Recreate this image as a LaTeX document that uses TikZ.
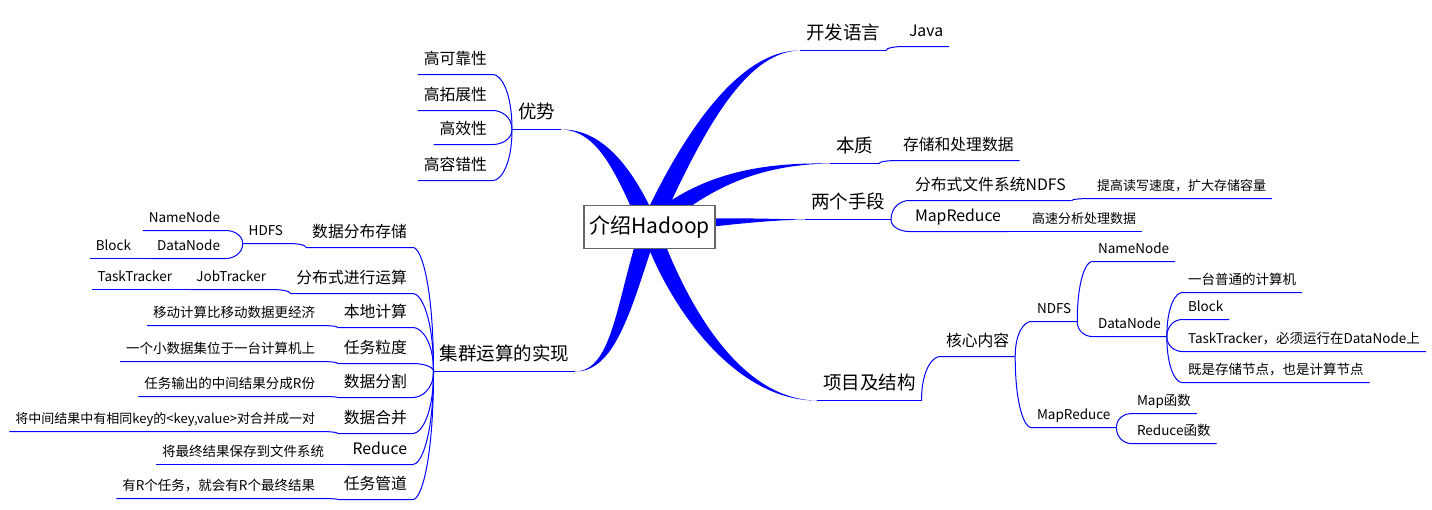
\documentclass[tikz,border=0pt]{standalone}
\usepackage{fontspec}
\setmainfont{Noto Sans CJK SC}
\usetikzlibrary{calc}

% thick tapered main branch from the hub to a topic
\newcommand{\limb}[5]{%
  \fill[trunk] ($(hub)+(#5)$) .. controls ($(hub)+(#3)+(#5)$) and ($(#1.#2)+(#4)+0.2*(#5)$) .. (#1.#2)
    .. controls ($(#1.#2)+(#4)-0.2*(#5)$) and ($(hub)+(#3)-(#5)$) .. ($(hub)-(#5)$) -- cycle;
  \draw[wire] (#1.south west) -- (#1.south east);}
% thin branch to a subtopic, right and left side
\newcommand{\twigR}[2]{\draw[wire] (#1.south east)
  .. controls ($(#1.south east)!.7!(#1.south east|-#2.south west)$) and ($(#2.south west)!.4!(#2.south west-|#1.south east)$)
  .. (#2.south west) -- (#2.south east);}
\newcommand{\twigL}[2]{\draw[wire] (#1.south west)
  .. controls ($(#1.south west)!.7!(#1.south west|-#2.south east)$) and ($(#2.south east)!.4!(#2.south east-|#1.south west)$)
  .. (#2.south east) -- (#2.south west);}

\tikzset{
  wire/.style={blue, line width=1pt},
  trunk/.style={fill=blue},
  hubbox/.style={draw=gray!80!black, fill=white, line width=1.3pt, minimum width=131pt,
    minimum height=43pt, inner sep=0pt, font=\fontsize{21}{24}\selectfont},
  topic/.style={inner xsep=6pt, inner ysep=0pt, outer sep=0pt},
  lvlA/.style={topic, font=\fontsize{18.5}{20}\selectfont, text depth=11.5pt},
  lvlB/.style={topic, font=\fontsize{15.8}{18}\selectfont, text depth=10pt},
  lvlC/.style={topic, font=\fontsize{13.5}{16}\selectfont, text depth=8pt},
  lvlD/.style={topic, font=\fontsize{13}{15}\selectfont, text depth=8pt},
}

\begin{document}
\begin{tikzpicture}[x=1pt,y=-1pt]
  \fill[white] (0,0) rectangle (1432,509);
  \useasboundingbox (0,0) rectangle (1432,509);
  \begin{scope}[yshift=-0.5pt]
  \coordinate (hub) at (649.5,226.5);

  % right side
  \node[lvlA, anchor=south west] (dev) at (800,50) {开发语言};
  \node[lvlB, anchor=south west] (java) at (903,46) {Java};
  \node[lvlA, anchor=south west] (ess) at (830,163) {本质};
  \node[lvlB, anchor=south west] (essx) at (897,160) {存储和处理数据};
  \node[lvlA, anchor=south west] (two) at (805,219) {两个手段};
  \node[lvlB, anchor=south west] (nfsA) at (909,200) {分布式文件系统NDFS};
  \node[lvlD, anchor=south west] (nfsAx) at (1091,198) {提高读写速度，扩大存储容量};
  \node[lvlB, anchor=south west] (mrA) at (909,231) {MapReduce};
  \node[lvlD, anchor=south west] (mrAx) at (1026,231) {高速分析处理数据};
  \node[lvlA, anchor=south west] (proj) at (817,400) {项目及结构};
  \node[lvlB, anchor=south west] (core) at (940,356) {核心内容};
  \node[lvlC, anchor=south west] (nfsB) at (1031,321) {NDFS};
  \node[lvlC, anchor=south west] (nameB) at (1092,261) {NameNode};
  \node[lvlC, anchor=south west] (dataB) at (1092,336) {DataNode};
  \node[lvlC, anchor=south west] (pc) at (1182,292) {一台普通的计算机};
  \node[lvlC, anchor=south west] (blkB) at (1182,319) {Block};
  \node[lvlC, anchor=south west] (ttB) at (1182,351) {TaskTracker，必须运行在DataNode上};
  \node[lvlC, anchor=south west] (both) at (1182,382) {既是存储节点，也是计算节点};
  \node[lvlC, anchor=south west] (mrB) at (1031,427) {MapReduce};
  \node[lvlC, anchor=south west] (mapf) at (1131,413) {Map函数};
  \node[lvlC, anchor=south west] (redf) at (1131,443) {Reduce函数};

  % left side
  \node[lvlA, anchor=south east] (adv) at (561,129) {优势};
  \node[lvlB, anchor=south east] (rel) at (493,74) {高可靠性};
  \node[lvlB, anchor=south east] (ext) at (493,110) {高拓展性};
  \node[lvlB, anchor=south east] (eff) at (493,144) {高效性};
  \node[lvlB, anchor=south east] (tol) at (493,180) {高容错性};
  \node[lvlA, anchor=south east] (impl) at (575,371) {集群运算的实现};
  \node[lvlB, anchor=south east] (store) at (413,247) {数据分布存储};
  \node[lvlC, anchor=south east] (hdfs) at (289,243) {HDFS};
  \node[lvlC, anchor=south east] (nameA) at (226,230) {NameNode};
  \node[lvlC, anchor=south east] (dataA) at (226,258) {DataNode};
  \node[lvlC, anchor=south east] (blkA) at (137,258) {Block};
  \node[lvlB, anchor=south east] (dist) at (413,293) {分布式进行运算};
  \node[lvlC, anchor=south east] (job) at (272,289) {JobTracker};
  \node[lvlC, anchor=south east] (task) at (178,289) {TaskTracker};
  \node[lvlB, anchor=south east] (local) at (413,327) {本地计算};
  \node[lvlC, anchor=south east] (localx) at (321,325) {移动计算比移动数据更经济};
  \node[lvlB, anchor=south east] (grain) at (413,363) {任务粒度};
  \node[lvlC, anchor=south east] (grainx) at (321,361) {一个小数据集位于一台计算机上};
  \node[lvlB, anchor=south east] (split) at (413,397) {数据分割};
  \node[lvlC, anchor=south east] (splitx) at (321,396) {任务输出的中间结果分成R份};
  \node[lvlB, anchor=south east] (merge) at (413,433) {数据合并};
  \node[lvlD, anchor=south east] (mergex) at (321,431) {将中间结果中有相同key的<key,value>对合并成一对};
  \node[lvlB, anchor=south east] (red) at (413,464) {Reduce};
  \node[lvlC, anchor=south east] (redx) at (330,464) {将最终结果保存到文件系统};
  \node[lvlB, anchor=south east] (pipe) at (413,499) {任务管道};
  \node[lvlC, anchor=south east] (pipex) at (321,498) {有R个任务，就会有R个最终结果};

  % main branches
  \limb{dev}{south west}{40,-87}{-60,0}{8,4}
  \limb{ess}{south west}{50,-42}{-80,0}{5,7}
  \limb{two}{south west}{50,-4}{-55,0}{0,6}
  \limb{proj}{south west}{30,84}{-77,0}{8,-3}
  \limb{adv}{south east}{-25,-57}{39,0}{8,-4}
  \limb{impl}{south east}{-25,74}{40,0}{8,3}

  % sub branches
  \twigR{dev}{java}
  \twigR{ess}{essx}
  \twigR{two}{nfsA} \twigR{nfsA}{nfsAx}
  \twigR{two}{mrA} \twigR{mrA}{mrAx}
  \twigR{proj}{core}
  \twigR{core}{nfsB} \twigR{nfsB}{nameB} \twigR{nfsB}{dataB}
  \twigR{dataB}{pc} \twigR{dataB}{blkB} \twigR{dataB}{ttB} \twigR{dataB}{both}
  \twigR{core}{mrB} \twigR{mrB}{mapf} \twigR{mrB}{redf}
  \twigL{adv}{rel} \twigL{adv}{ext} \twigL{adv}{eff} \twigL{adv}{tol}
  \twigL{impl}{store} \twigL{store}{hdfs} \twigL{hdfs}{nameA} \twigL{hdfs}{dataA} \twigL{dataA}{blkA}
  \twigL{impl}{dist} \twigL{dist}{job} \twigL{job}{task}
  \twigL{impl}{local} \twigL{local}{localx}
  \twigL{impl}{grain} \twigL{grain}{grainx}
  \twigL{impl}{split} \twigL{split}{splitx}
  \twigL{impl}{merge} \twigL{merge}{mergex}
  \twigL{impl}{red} \twigL{red}{redx}
  \twigL{impl}{pipe} \twigL{pipe}{pipex}

  % central topic
  \node[hubbox] (root) at (hub) {介绍Hadoop};
  \end{scope}
\end{tikzpicture}
\end{document}
